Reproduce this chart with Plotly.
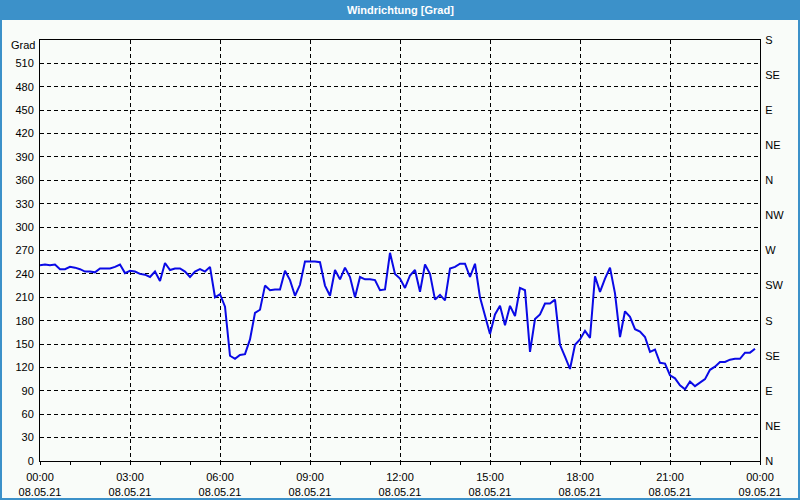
import plotly.graph_objects as go
import pandas as pd

# Wind direction values (degrees), 10-minute steps starting 08.05.21 00:00
values = [
    251, 252, 251, 252, 246, 246, 249, 248, 246, 243, 243, 242,   # 00:00-01:50
    247, 247, 247, 249, 252, 241, 244, 243, 240, 239, 236, 243,   # 02:00-03:50
    231, 254, 245, 247, 247, 243, 236, 243, 246, 243, 249, 210,   # 04:00-05:50
    214, 198, 135, 131, 136, 137, 156, 190, 194, 225, 219, 220,   # 06:00-07:50
    220, 244, 232, 212, 226, 256, 256, 256, 255, 225, 212, 245,   # 08:00-09:50
    233, 248, 236, 210, 236, 233, 233, 232, 219, 220, 267, 240,   # 10:00-11:50
    234, 222, 238, 245, 217, 252, 240, 207, 213, 206, 247, 249,   # 12:00-13:50
    253, 253, 236, 253, 210, 186, 163, 188, 199, 174, 199, 186,   # 14:00-15:50
    222, 219, 140, 182, 188, 202, 202, 207, 149, 134, 118, 149,   # 16:00-17:50
    156, 167, 158, 237, 217, 234, 248, 215, 159, 192, 185, 169,   # 18:00-19:50
    166, 159, 140, 143, 126, 125, 110, 106, 97, 92, 102, 96,      # 20:00-21:50
    100, 105, 117, 121, 127, 127, 130, 131, 131, 139, 139, 144,   # 22:00-23:50
]
start = "2021-05-08 00:00"
times = pd.date_range(start, periods=len(values), freq="10min")

x_tick_times = pd.date_range(start, periods=9, freq="3h")
x_tick_text = ["00:00<br>08.05.21", "03:00<br>08.05.21", "06:00<br>08.05.21",
               "09:00<br>08.05.21", "12:00<br>08.05.21", "15:00<br>08.05.21",
               "18:00<br>08.05.21", "21:00<br>08.05.21", "00:00<br>09.05.21"]

left_ticks = list(range(0, 540, 30))
right_ticks = list(range(0, 541, 45))
right_text = ["N", "NE", "E", "SE", "S", "SW", "W", "NW", "N", "NE", "E", "SE", "S"]

BG = "#f9fcf9"
BLUE = "#3c91c9"
FONT = "Liberation Sans"

fig = go.Figure()
fig.add_trace(go.Scatter(x=times, y=values, mode="lines",
                         line=dict(color="#0a0ae6", width=2), showlegend=False,
                         hoverinfo="skip"))
fig.add_trace(go.Scatter(x=[times[0]], y=[None], yaxis="y2", mode="lines",
                         showlegend=False, hoverinfo="skip"))

L, R, T, B = 40, 40, 40, 39
W, H = 800, 500
pw, ph = W - L - R, H - T - B


def px(xp):
    return (xp - L) / pw


def py(yp):
    return (H - B - yp) / ph


fig.update_layout(
    width=W, height=H,
    margin=dict(l=L, r=R, t=T, b=B, pad=0, autoexpand=False),
    paper_bgcolor=BG, plot_bgcolor=BG,
    font=dict(family=FONT, size=11, color="black"),
    xaxis=dict(
        type="date", automargin=False,
        range=[x_tick_times[0], x_tick_times[-1]],
        tickvals=list(x_tick_times), ticktext=x_tick_text,
        showgrid=True, gridcolor="black", gridwidth=1, griddash="4px,3px",
        showline=True, linecolor="black", linewidth=1, mirror=True,
        ticks="outside", ticklen=3, tickcolor="black",
        minor=dict(dtick=3600000, ticks="outside", ticklen=3, tickcolor="black", showgrid=False),
        zeroline=False, fixedrange=True, ticklabelstandoff=3,
    ),
    yaxis=dict(
        range=[0, 540], tickvals=left_ticks, ticktext=[str(v) for v in left_ticks],
        automargin=False,
        showgrid=True, gridcolor="black", gridwidth=1, griddash="4px,3px",
        showline=True, linecolor="black", linewidth=1,
        ticks="", zeroline=False, fixedrange=True, ticklabelstandoff=3,
    ),
    yaxis2=dict(
        range=[0, 540], overlaying="y", side="right", automargin=False,
        tickvals=right_ticks, ticktext=right_text,
        showgrid=False, showline=True, linecolor="black", linewidth=1,
        ticks="", zeroline=False, fixedrange=True, ticklabelstandoff=2,
    ),
    shapes=[
        dict(type="rect", xref="paper", yref="paper",
             x0=px(0), x1=px(W), y0=py(20), y1=py(0),
             fillcolor=BLUE, line=dict(width=0), layer="below"),
        dict(type="rect", xref="paper", yref="paper",
             x0=px(1), x1=px(W - 1), y0=py(H - 1), y1=py(1),
             fillcolor="rgba(0,0,0,0)", line=dict(color=BLUE, width=2)),
    ],
    annotations=[
        dict(text="<b>Windrichtung [Grad]</b>", xref="paper", yref="paper",
             x=0.5, y=py(10), xanchor="center", yanchor="middle", showarrow=False,
             font=dict(family=FONT, size=11, color="white")),
        dict(text="Grad", xref="paper", yref="paper",
             x=px(37), y=py(45), xanchor="right", yanchor="middle", showarrow=False,
             font=dict(family=FONT, size=11, color="black")),
    ],
)

fig.write_html("out.html")
